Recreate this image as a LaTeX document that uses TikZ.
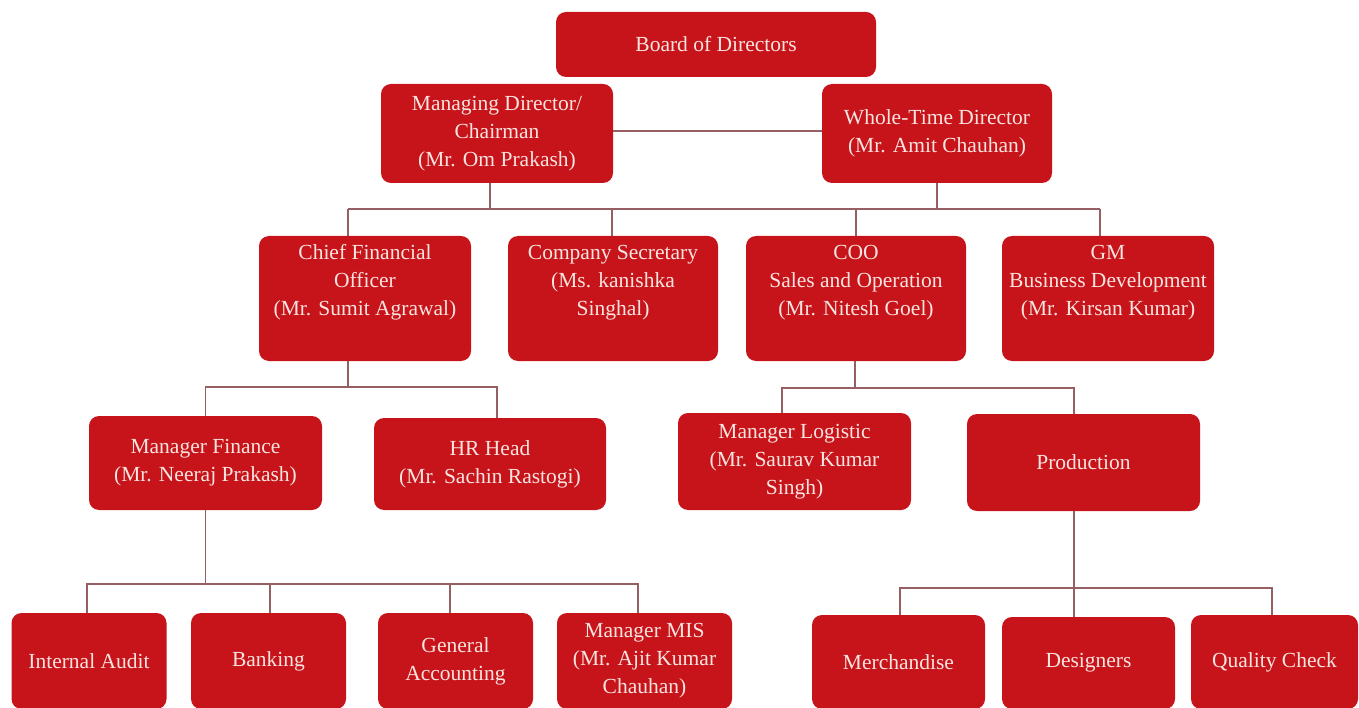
\documentclass[tikz,border=0pt]{standalone}
\usepackage{fontspec}
\setmainfont{Liberation Serif}
\definecolor{boxred}{RGB}{198,20,26}
\definecolor{linec}{RGB}{150,95,100}
\definecolor{txtc}{RGB}{250,228,224}
\begin{document}
\begin{tikzpicture}[x=1pt,y=-1pt,
  box/.style={draw=none,fill=boxred,rounded corners=10pt,align=center,
    text=txtc,font=\fontsize{21.5}{28}\selectfont,inner sep=0pt},
  conn/.style={draw=linec,line width=1.6pt}]
\useasboundingbox (0,0) rectangle (1359,708);
% top
\node[box,minimum width=320,minimum height=65] (bod) at (716,44.5) {Board of Directors};
\node[box,minimum width=232,minimum height=99] (md) at (497,133.5) {Managing Director/\\Chairman\\(Mr. Om Prakash)};
\node[box,minimum width=230,minimum height=99] (wtd) at (937,133.5) {Whole-Time Director\\(Mr. Amit Chauhan)};
% second row
\node[box,minimum width=212,minimum height=125] (cfo) at (365,298.5) {Chief Financial\\Officer\\(Mr. Sumit Agrawal)\\\strut};
\node[box,minimum width=210,minimum height=125] (cs) at (613,298.5) {Company Secretary\\(Ms. kanishka\\Singhal)\\\strut};
\node[box,minimum width=220,minimum height=125] (coo) at (856,298.5) {COO\\Sales and Operation\\(Mr. Nitesh Goel)\\\strut};
\node[box,minimum width=212,minimum height=125] (gm) at (1108,298.5) {GM\\Business Development\\(Mr. Kirsan Kumar)\\\strut};
% third row
\node[box,minimum width=233,minimum height=94] (mf) at (205.5,463) {Manager Finance\\(Mr. Neeraj Prakash)};
\node[box,minimum width=232,minimum height=92] (hr) at (490,464) {HR Head\\(Mr. Sachin Rastogi)};
\node[box,minimum width=233,minimum height=97] (ml) at (794.5,461.5) {Manager Logistic\\(Mr. Saurav Kumar\\Singh)};
\node[box,minimum width=233,minimum height=97] (prod) at (1083.5,462.5) {Production};
% bottom row
\node[box,minimum width=155,minimum height=96] (ia) at (89,661) {Internal Audit};
\node[box,minimum width=155,minimum height=96] (bank) at (268.5,661) {Banking};
\node[box,minimum width=155,minimum height=96] (ga) at (455.5,661) {General\\Accounting};
\node[box,minimum width=175,minimum height=96] (mis) at (644.5,661) {Manager MIS\\(Mr. Ajit Kumar\\Chauhan)};
\node[box,minimum width=173,minimum height=94] (mer) at (898.5,662) {Merchandise};
\node[box,minimum width=173,minimum height=92] (des) at (1088.5,663) {Designers};
\node[box,minimum width=167,minimum height=94] (qc) at (1274.5,662) {Quality Check};
% connectors
\draw[conn] (md.east |- 0,131) -- (wtd.west |- 0,131);
\coordinate (h1) at (0,209);
\draw[conn] (md.south -| 490,0) -- (490,209);
\draw[conn] (wtd.south) -- (wtd.south |- h1);
\draw[conn] (348,209) -- (1100,209);
\draw[conn] (348,209) -- (cfo.north -| 348,0);
\draw[conn] (612,209) -- (cs.north -| 612,0);
\draw[conn] (856,209) -- (coo.north);
\draw[conn] (1100,209) -- (gm.north -| 1100,0);
% CFO children
\draw[conn] (cfo.south -| 348,0) -- (348,387);
\draw[conn] (mf.north) -- (205.5,387) -- (497,387) -- (hr.north -| 497,0);
% COO children
\draw[conn] (coo.south -| 855,0) -- (855,388);
\draw[conn] (ml.north -| 782,0) -- (782,388) -- (1074,388) -- (prod.north -| 1074,0);
% MF children
\draw[conn] (mf.south) -- (205.5,584);
\draw[conn] (ia.north -| 87,0) -- (87,584) -- (638,584) -- (mis.north -| 638,0);
\draw[conn] (270,584) -- (bank.north -| 270,0);
\draw[conn] (450,584) -- (ga.north -| 450,0);
% Production children
\draw[conn] (prod.south -| 1074,0) -- (1074,588);
\draw[conn] (mer.north -| 900,0) -- (900,588) -- (1272,588) -- (qc.north -| 1272,0);
\draw[conn] (1074,588) -- (des.north -| 1074,0);
\end{tikzpicture}
\end{document}
